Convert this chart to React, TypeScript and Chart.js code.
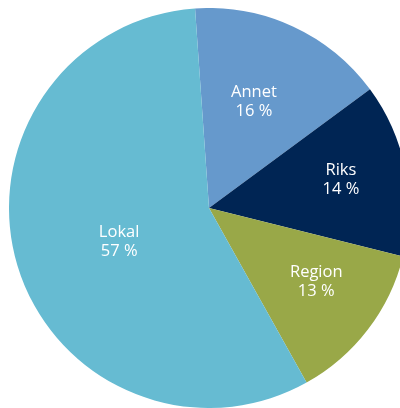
import React, { useEffect, useRef } from "react";
import { Chart, registerables } from "chart.js";

Chart.register(...registerables);

const categories = ["Annet", "Riks", "Region", "Lokal"];
const shares = [16, 14, 13, 57];
const valueLabels = ["16 %", "14 %", "13 %", "57 %"];
const colors = ["#6699cc", "#002554", "#99a848", "#66bbd2"];

// label placement: fraction of radius and angular tweak (degrees)
const labelRadius = [0.58, 0.675, 0.65, 0.48];
const labelAngleTweak = [-2, -1, -3, -4];

const labelPlugin = {
  id: "sliceLabels",
  afterDatasetsDraw(chart: any) {
    const ctx = chart.ctx;
    const meta = chart.getDatasetMeta(0);
    ctx.save();
    ctx.fillStyle = "#ffffff";
    ctx.font = "16.5px 'Open Sans', sans-serif";
    ctx.textAlign = "center";
    ctx.textBaseline = "middle";
    meta.data.forEach((arc: any, i: number) => {
      const p = arc.getProps(["x", "y", "startAngle", "endAngle", "outerRadius"], true);
      const mid = (p.startAngle + p.endAngle) / 2 + (labelAngleTweak[i] * Math.PI) / 180;
      const r = p.outerRadius * labelRadius[i];
      const cx = p.x + Math.cos(mid) * r;
      const cy = p.y + Math.sin(mid) * r;
      ctx.fillText(categories[i], cx, cy - 9);
      ctx.fillText(valueLabels[i], cx, cy + 10);
    });
    ctx.restore();
  },
};

export default function App() {
  const ref = useRef<HTMLCanvasElement>(null);
  useEffect(() => {
    if (!ref.current) return;
    const chart = new Chart(ref.current, {
      type: "pie",
      data: {
        labels: categories,
        datasets: [
          {
            data: shares,
            backgroundColor: colors,
            borderWidth: 0,
            hoverOffset: 0,
          },
        ],
      },
      options: {
        animation: false,
        responsive: true,
        maintainAspectRatio: false,
        rotation: -4,
        layout: { padding: 0 },
        plugins: {
          legend: { display: false },
          tooltip: { enabled: false },
        },
        events: [],
      },
      plugins: [labelPlugin],
    });
    return () => chart.destroy();
  }, []);

  return (
    <div
      style={{
        position: "fixed",
        left: 0,
        top: 0,
        width: 400,
        height: 408,
        overflow: "hidden",
        background: "#ffffff",
      }}
    >
      <div style={{ position: "absolute", left: 9, top: 8, width: 400, height: 400 }}>
        <canvas ref={ref} />
      </div>
    </div>
  );
}
